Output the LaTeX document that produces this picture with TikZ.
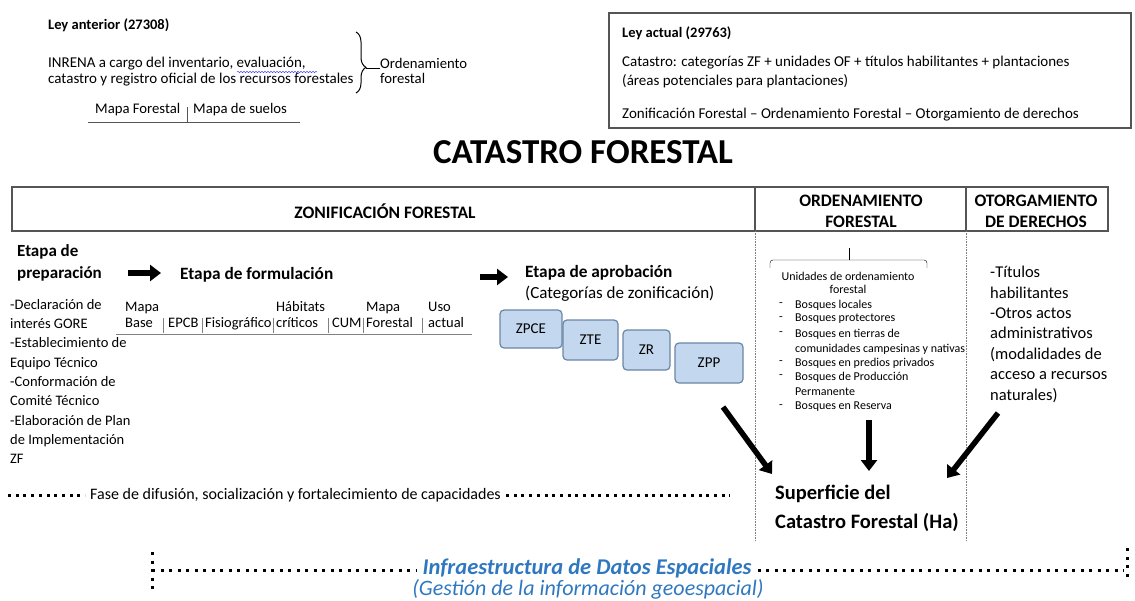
\documentclass[tikz,border=0pt]{standalone}
\usepackage{fontspec}
\setmainfont{Carlito}
\usetikzlibrary{arrows.meta,decorations.pathreplacing,decorations.pathmorphing}

\definecolor{zonafill}{HTML}{C3D8EE}
\definecolor{zonaborde}{HTML}{6A86A3}
\definecolor{idsazul}{HTML}{2F78C0}
\definecolor{marco}{HTML}{555555}

\newcommand{\tam}[2]{\fontsize{#1}{#2}\selectfont}

\tikzset{
  txt/.style={anchor=west, inner sep=0pt},
  bloque/.style={anchor=north west, inner sep=0pt, align=left},
  celda/.style={anchor=south west, inner sep=0pt, align=left, text depth=0pt, font=\tam{14.5}{16}},
  zona/.style={draw=zonaborde, fill=zonafill, rounded corners=4pt, line width=1.2pt, inner sep=0pt, font=\tam{15}{16}},
  flecha/.style={line width=5.5pt, -{Triangle[length=11pt,width=16pt]}},
  puntos/.style={line width=3pt, dash pattern=on 3pt off 4.7pt},
  guia/.style={densely dotted, line width=0.6pt, gray},
}

\begin{document}
\begin{tikzpicture}[x=1pt,y=-1pt]
    \useasboundingbox (0,0) rectangle (1135,600);

    % ley anterior
    \node[txt, font=\bfseries\tam{14.5}{16}] (anterior) at (48,25) {Ley anterior (27308)};
    \node[bloque, font=\tam{15}{16}] (inrena) at (48,57)
        {INRENA a cargo del inventario, evaluación,\\catastro y registro oficial de los recursos forestales};
    \draw[blue!70, line width=0.5pt, decorate, decoration={snake, amplitude=0.7pt, segment length=3pt}]
        (237,72) -- (317,72);
    \draw[line width=1pt, decorate, decoration={brace, amplitude=10pt, aspect=0.58}]
        (356,32) -- (356,93);
    \coordinate (llave) at (366,68);
    \node[bloque, font=\tam{14.7}{15}] (ordena) at (380,58) {Ordenamiento\\forestal};
    \draw[line width=1pt] (llave) -- (ordena.west |- llave);
    \node[txt, font=\tam{14.7}{16}] (mapafor) at (95,110) {Mapa Forestal};
    \node[txt, font=\tam{14.7}{16}] (mapasue) at (193,110) {Mapa de suelos};
    \draw[marco] (88,122) -- (300,122);
    \draw[marco] (187,107) -- (187,122);

    % ley actual
    \draw[marco, line width=1.2pt] (609,13) rectangle (1131,128);
    \node[txt, font=\bfseries\tam{14.5}{16}] (actual) at (622,33) {Ley actual (29763)};
    \node[bloque, font=\tam{15}{19}] (catastro) at (622,56)
        {Catastro: categorías ZF + unidades OF + títulos habilitantes + plantaciones\\(áreas potenciales para plantaciones)};
    \node[txt, font=\tam{15}{16}] (etapas) at (622,115)
        {Zonificación Forestal -- Ordenamiento Forestal -- Otorgamiento de derechos};

    \node[font=\bfseries\tam{35}{40}] (titulo) at (583,152) {CATASTRO FORESTAL};

    % cabecera
    \draw[marco, line width=1.4pt] (12,187) rectangle (1108,231);
    \draw[marco, line width=1.4pt] (755,187) -- (755,231);
    \draw[marco, line width=1.4pt] (966,187) -- (966,231);
    \node[font=\bfseries\tam{17.5}{21}] (zonif) at (385,211) {ZONIFICACIÓN FORESTAL};
    \node[font=\bfseries\tam{17.5}{21}, align=center] (ordenf) at (861,211.5) {ORDENAMIENTO\\FORESTAL};
    \node[font=\bfseries\tam{17.5}{21}, align=center] (otorga) at (1036,211.5) {OTORGAMIENTO\\DE DERECHOS};
    \draw[guia] (755,231) -- (755,540);
    \draw[guia] (966,231) -- (966,540);

    % etapas
    \node[bloque, font=\bfseries\tam{17}{22}] (prep) at (17,244) {Etapa de\\preparación};
    \node[txt, font=\bfseries\tam{17.3}{18}] (formul) at (180,275) {Etapa de formulación};
    \node[txt, font=\bfseries\tam{17.3}{18}] (aprob) at (525,273) {Etapa de aprobación};
    \node[txt, font=\tam{17}{18}] (categ) at (525,294) {(Categorías de zonificación)};
    \coordinate (p1) at (128,273);
    \coordinate (p2) at (161,273);
    \coordinate (q1) at (480,277);
    \coordinate (q2) at (508,277);
    \draw[flecha] (p1) -- (p2);
    \draw[flecha] (q1) -- (q2);

    \node[bloque, font=\tam{14.5}{19.3}] (prepara) at (10,299)
        {-Declaración de\\interés GORE\\-Establecimiento de\\Equipo Técnico\\-Conformación de\\Comité Técnico\\-Elaboración de Plan\\de Implementación\\ZF};

    % insumos de formulacion
    \node[celda] (base) at (125,328) {Mapa\\Base};
    \node[celda] (epcb) at (168,328) {EPCB};
    \node[celda] (fisio) at (205,328) {Fisiográfico};
    \node[celda] (habit) at (276,328) {Hábitats\\críticos};
    \node[celda] (cum) at (332,328) {CUM};
    \node[celda] (mapaf) at (366,328) {Mapa\\Forestal};
    \node[celda] (uso) at (428,328) {Uso\\actual};
    \foreach \x in {163, 202, 273, 328, 363, 422}
        \draw[gray] (\x,318) -- (\x,333);
    \draw[gray] (116,334) -- (472,334);

    % categorias
    \node[zona, minimum width=62pt, minimum height=38pt] (zpce) at (531,329) {ZPCE};
    \node[zona, minimum width=55pt, minimum height=40pt] (zte) at (590.5,340) {ZTE};
    \node[zona, minimum width=47pt, minimum height=40pt] (zr) at (646.5,350) {ZR};
    \node[zona, minimum width=68pt, minimum height=40pt] (zpp) at (709,363) {ZPP};

    % unidades de ordenamiento
    \draw[rounded corners=3pt] (770,268) -- (770,260) -- (927,260) -- (927,268);
    \draw (849,260) -- (849,248);
    \node[font=\tam{12}{13}, align=center, inner sep=0pt] (unidades) at (848,283) {Unidades de ordenamiento\\forestal};
    \foreach \y/\t in {305/Bosques locales, 319/Bosques protectores, 334/Bosques en tierras de,
                       363/Bosques en predios privados, 377/Bosques de Producción, 407/Bosques en Reserva}
    {
        \node[txt, font=\tam{12}{13}] (guion\y) at (779,\y) {-};
        \node[txt, font=\tam{12}{13}] (bosque\y) at (795,\y) {\t};
    }
    \node[txt, font=\tam{12}{13}] (bosque349) at (795,349) {comunidades campesinas y nativas};
    \node[txt, font=\tam{12}{13}] (bosque392) at (795,392) {Permanente};

    % otorgamiento
    \node[bloque, font=\tam{16.5}{20.4}] (titulos) at (990,266)
        {-Títulos\\habilitantes\\-Otros actos\\administrativos\\(modalidades de\\acceso a recursos\\naturales)};

    % superficie
    \node[bloque, font=\bfseries\tam{20.5}{29}] (superf) at (775,485) {Superficie del\\Catastro Forestal (Ha)};
    \coordinate (s1) at (723,407);
    \coordinate (s1e) at (772,474);
    \coordinate (s2) at (869,420);
    \coordinate (s2e) at (869,471);
    \coordinate (s3) at (998,413);
    \coordinate (s3e) at (947,478);
    \draw[flecha] (s1) -- (s1e);
    \draw[flecha] (s2) -- (s2e);
    \draw[flecha] (s3) -- (s3e);

    % fase de difusion
    \node[txt, font=\tam{16}{17}] (fase) at (90,495) {Fase de difusión, socialización y fortalecimiento de capacidades};
    \draw[puntos] (8,495) -- ([xshift=-5pt]fase.west |- 0,495);
    \draw[puntos] ([xshift=5pt]fase.east |- 0,495) -- (730,495);

    % IDE
    \node[font=\bfseries\itshape\tam{22.5}{24}, text=idsazul, inner sep=0pt] (ids) at (587,568) {Infraestructura de Datos Espaciales};
    \node[font=\itshape\tam{22}{24}, text=idsazul, inner sep=0pt] (gestion) at (588,589) {(Gestión de la información geoespacial)};
    \draw[puntos, dash pattern=on 3pt off 5.5pt] (152,570) -- ([xshift=-6pt]ids.west |- 0,570);
    \draw[puntos, dash pattern=on 3pt off 5.5pt] ([xshift=6pt]ids.east |- 0,570) -- (1124,570);
    \draw[puntos, dash pattern=on 3pt off 5.5pt] (152,552) -- (152,592);
    \draw[puntos, dash pattern=on 3pt off 5.5pt] (1127,548) -- (1127,580);
\end{tikzpicture}
\end{document}
